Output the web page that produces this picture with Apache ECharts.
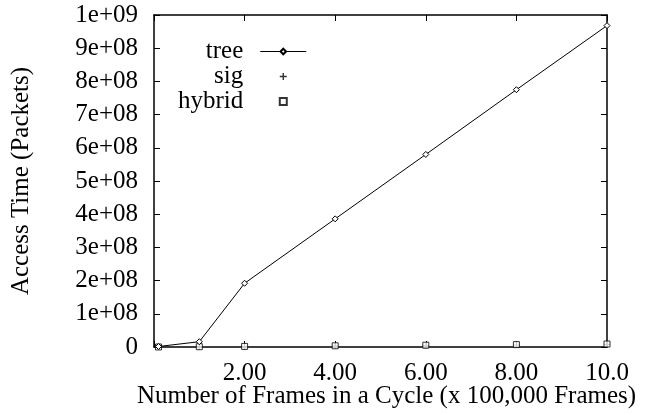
<!DOCTYPE html>
<html>
<head>
<meta charset="utf-8">
<script src="https://cdn.jsdelivr.net/npm/echarts@6/dist/echarts.min.js"></script>
<style>
  html, body { margin: 0; padding: 0; background: #fff; }
  #chart { width: 653px; height: 415px; }
</style>
</head>
<body>
<div id="chart"></div>
<script>
// frames in a cycle (x 100,000)
var frames = [0.1, 1, 2, 4, 6, 8, 10];
var treeTime = [1.5e6, 1.6e7, 1.92e8, 3.86e8, 5.8e8, 7.75e8, 9.68e8];
var sigTime = [1e5, 8e5, 1.5e6, 3e6, 4.5e6, 6e6, 7.5e6];
var hybridTime = [5e4, 9e5, 1.8e6, 3.6e6, 5.4e6, 7.2e6, 9e6];

var myChart = echarts.init(document.getElementById('chart'));
var font = 'Liberation Serif';
var fs = 25;

function pairs(xs, ys) {
    var out = [];
    for (var i = 0; i < xs.length; i++) out.push([xs[i], ys[i]]);
    return out;
}

function yLabel(v) {
    if (v === 0) return '0';
    var e = Math.floor(Math.log10(v) + 1e-9);
    var m = Math.round(v / Math.pow(10, e));
    return m + 'e+' + (e < 10 ? '0' + e : e);
}

function xLabel(v) {
    if (v === 0) return '';
    return v >= 10 ? v.toFixed(1) : v.toFixed(2);
}

var plusPath = 'path://M4,0h2v4h4v2h-4v4h-2v-4h-4v-2h4z';
var squarePath = 'path://M0,0h10v10h-10z';

var option = {
    animation: false,
    textStyle: { fontFamily: font, color: '#000' },
    grid: { left: 154, right: 46, top: 15, bottom: 68, outerBoundsMode: 'none' },
    legend: {
        orient: 'vertical',
        left: 178,
        top: 39,
        padding: 0,
        align: 'right',
        itemWidth: 46,
        itemHeight: 7,
        itemGap: 0,
        lineStyle: { width: 1 },
        textStyle: { fontFamily: font, fontSize: fs, color: '#000', lineHeight: 25, padding: [0, 12, 0, 0] },
        data: ['tree', 'sig', 'hybrid']
    },
    xAxis: [{
        type: 'value',
        min: 0, max: 10, interval: 2,
        name: 'Number of Frames in a Cycle (x 100,000 Frames)',
        nameLocation: 'middle',
        nameGap: 37,
        nameMoveOverlap: false,
        nameTextStyle: { fontFamily: font, fontSize: fs, color: '#000', padding: [0, 0, 0, 12] },
        axisLine: { onZero: false, lineStyle: { color: '#000', width: 1.5 } },
        axisTick: { inside: true, length: 6, lineStyle: { color: '#000' } },
        axisLabel: { fontFamily: font, fontSize: fs, color: '#000', margin: 14, formatter: xLabel },
        splitLine: { show: false }
    }, {
        type: 'value',
        position: 'top',
        min: 0, max: 10, interval: 2,
        axisLine: { onZero: false, lineStyle: { color: '#000', width: 1.5 } },
        axisTick: { inside: true, length: 6, lineStyle: { color: '#000' } },
        axisLabel: { show: false },
        splitLine: { show: false }
    }],
    yAxis: [{
        type: 'value',
        min: 0, max: 1e9, interval: 1e8,
        name: 'Access Time (Packets)',
        nameLocation: 'middle',
        nameGap: 120,
        nameMoveOverlap: false,
        nameTextStyle: { fontFamily: font, fontSize: fs, color: '#000' },
        axisLine: { show: true, onZero: false, lineStyle: { color: '#000', width: 1.5 } },
        axisTick: { show: true, inside: true, length: 6, lineStyle: { color: '#000' } },
        axisLabel: { fontFamily: font, fontSize: fs, color: '#000', margin: 16, formatter: yLabel },
        splitLine: { show: false }
    }, {
        type: 'value',
        position: 'right',
        min: 0, max: 1e9, interval: 1e8,
        axisLine: { show: true, onZero: false, lineStyle: { color: '#000', width: 1.5 } },
        axisTick: { show: true, inside: true, length: 6, lineStyle: { color: '#000' } },
        axisLabel: { show: false },
        splitLine: { show: false }
    }],
    series: [{
        name: 'tree',
        type: 'line',
        data: pairs(frames, treeTime),
        symbol: 'diamond',
        symbolSize: 6,
        showAllSymbol: true,
        lineStyle: { color: '#000', width: 1 },
        itemStyle: { color: '#fff', borderColor: '#000', borderWidth: 1 }
    }, {
        name: 'sig',
        type: 'scatter',
        data: pairs(frames, sigTime),
        symbol: plusPath,
        symbolSize: 6,
        itemStyle: { color: '#000' }
    }, {
        name: 'hybrid',
        type: 'scatter',
        data: pairs(frames, hybridTime),
        symbol: squarePath,
        symbolSize: 6,
        itemStyle: { color: '#fff', borderColor: '#000', borderWidth: 1 }
    }]
};
myChart.setOption(option);
</script>
</body>
</html>
